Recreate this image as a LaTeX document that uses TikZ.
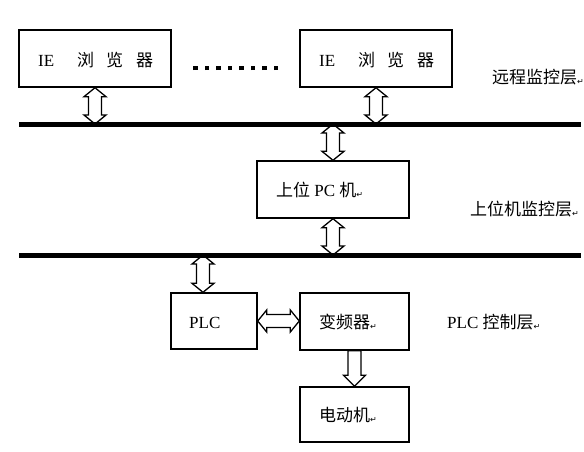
\documentclass[tikz,border=0pt]{standalone}
\usepackage{fontspec}
\setmainfont{Liberation Serif}
\newfontfamily\cjk{Noto Sans CJK SC}
\newfontfamily\dvs{DejaVu Sans}
\usetikzlibrary{calc}
\newcommand{\retmark}{{\fontsize{8}{8}\dvs\raisebox{-1pt}{↵}}}
\tikzset{
  box/.style={draw, line width=1.4pt, inner sep=0pt},
  lbl/.style={inner sep=0pt, font=\fontsize{17}{17}\selectfont, anchor=west},
  bus/.style={line width=5pt},
  harrow/.style={draw, line width=1.3pt, fill=white, line join=miter},
}
% vertical double hollow arrow between two named points
\newcommand{\vdarrow}[2]{%
  \path[harrow] let \p1=(#1), \p2=(#2) in
    (\x1,\y1) -- (\x1+11,\y1-9) -- (\x1+6.5,\y1-9) -- (\x1+6.5,\y2+9) -- (\x1+11,\y2+9)
    -- (\x1,\y2) -- (\x1-11,\y2+9) -- (\x1-6.5,\y2+9) -- (\x1-6.5,\y1-9) -- (\x1-11,\y1-9) -- cycle;}
% vertical single hollow arrow (down) between two named points
\newcommand{\vsarrow}[2]{%
  \path[harrow] let \p1=(#1), \p2=(#2) in
    (\x1+6.5,\y1) -- (\x1+6.5,\y2+11) -- (\x1+11,\y2+11)
    -- (\x1,\y2) -- (\x1-11,\y2+11) -- (\x1-6.5,\y2+11) -- (\x1-6.5,\y1) -- cycle;}
% horizontal double hollow arrow between two named points
\newcommand{\hdarrow}[2]{%
  \path[harrow] let \p1=(#1), \p2=(#2) in
    (\x1,\y1) -- (\x1+9,\y1+11) -- (\x1+9,\y1+6.5) -- (\x2-9,\y1+6.5) -- (\x2-9,\y1+11)
    -- (\x2,\y1) -- (\x2-9,\y1-11) -- (\x2-9,\y1-6.5) -- (\x1+9,\y1-6.5) -- (\x1+9,\y1-11) -- cycle;}
\begin{document}
\begin{tikzpicture}[x=1pt,y=-1pt]
\useasboundingbox (0,0) rectangle (584,451);
% boxes
\node[box, minimum width=152pt, minimum height=57pt] (ie1) at (95,58.5) {};
\node[lbl] (ie1t) at (38,60) {IE\hspace{23pt}{\cjk 浏\hspace{12pt}览\hspace{13pt}器}};
\node[box, minimum width=152pt, minimum height=57pt] (ie2) at (376,58.5) {};
\node[lbl] (ie2t) at (319,60) {IE\hspace{23pt}{\cjk 浏\hspace{12pt}览\hspace{13pt}器}};
\node[inner sep=0pt, anchor=west] (dots) at (193,68) {\rule{4.3pt}{4.3pt}\hspace{7.2pt}\rule{4.3pt}{4.3pt}\hspace{7.2pt}\rule{4.3pt}{4.3pt}\hspace{7.2pt}\rule{4.3pt}{4.3pt}\hspace{7.2pt}\rule{4.3pt}{4.3pt}\hspace{7.2pt}\rule{4.3pt}{4.3pt}\hspace{7.2pt}\rule{4.3pt}{4.3pt}\hspace{7.2pt}\rule{4.3pt}{4.3pt}};
\node[box, minimum width=152pt, minimum height=57pt] (pc) at (333,189.5) {};
\node[lbl] (pct) at (276,190) {{\cjk 上位} PC {\cjk 机}\retmark};
\node[box, minimum width=86pt, minimum height=56pt] (plc) at (214,321) {};
\node[lbl] (plct) at (189,323) {PLC};
\node[box, minimum width=109pt, minimum height=57pt] (vfd) at (354.5,321.5) {};
\node[lbl] (vfdt) at (319,322) {{\cjk 变频器}\retmark};
\node[box, minimum width=109pt, minimum height=55pt] (mot) at (354.5,414.5) {};
\node[lbl] (mott) at (319,415) {{\cjk 电动机}\retmark};
% layer labels
\node[lbl] (l1) at (492,77) {{\cjk 远程监控层}\retmark};
\node[lbl] (l2) at (470,209) {{\cjk 上位机监控层}\retmark};
\node[lbl] (l3) at (447,322) {PLC {\cjk 控制层}\retmark};
% bus coordinates
\coordinate (b1w) at (19,124);
\coordinate (b1e) at (581,124);
\coordinate (b2w) at (19,255);
\coordinate (b2e) at (581,255);
\coordinate (b1a) at (ie1.south |- b1w);
\coordinate (b1b) at (ie2.south |- b1w);
\coordinate (b1c) at (pc.north |- b1w);
\coordinate (b2c) at (pc.south |- b2w);
\coordinate (plctop) at ([xshift=-11pt]plc.north);
\coordinate (b2d) at (plctop |- b2w);
% arrows
\vdarrow{ie1.south}{b1a}
\vdarrow{ie2.south}{b1b}
\vdarrow{b1c}{pc.north}
\vdarrow{pc.south}{b2c}
\vdarrow{b2d}{plctop}
\hdarrow{plc.east}{vfd.west}
\vsarrow{vfd.south}{mot.north}
% buses
\draw[bus] (b1w) -- (b1e);
\draw[bus] (b2w) -- (b2e);
\end{tikzpicture}
\end{document}
